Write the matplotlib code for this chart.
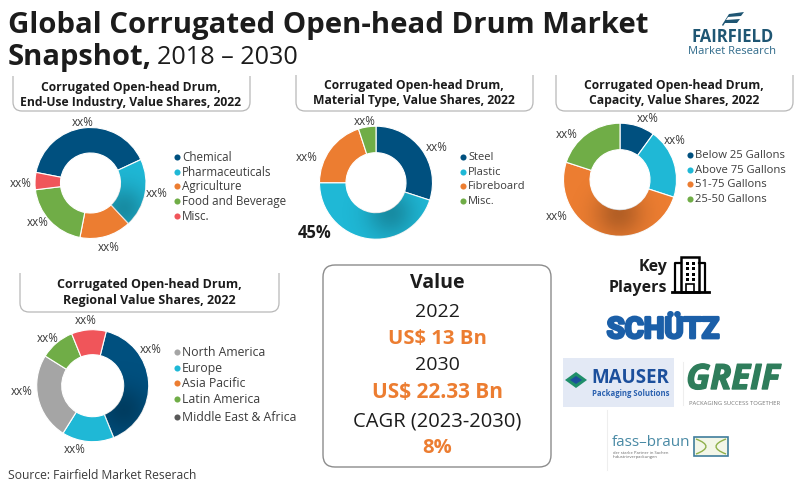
import numpy as np
import matplotlib
matplotlib.use("Agg")
import matplotlib.pyplot as plt
import matplotlib.patheffects as pe
from matplotlib.patches import FancyBboxPatch, PathPatch, Rectangle, Polygon
from matplotlib.path import Path

plt.rcParams["font.family"] = ["Open Sans", "DejaVu Sans"]

W, H = 800, 486

NAVY = "#00507f"
TEAL = "#1fb8d6"
ORANGE = "#ec7d31"
GREEN = "#70ad47"
RED = "#f0555a"
GREY = "#a5a5a5"
DARK = "#595959"
TEXT = "#3c3c3c"

# ==========================================
# Data
# ==========================================

industry_labels = ["Chemical", "Pharmaceuticals", "Agriculture", "Food and Beverage", "Misc."]
industry_values = [40, 20, 15, 20, 5]
industry_colors = [NAVY, TEAL, ORANGE, GREEN, RED]

material_labels = ["Steel", "Plastic", "Fibreboard", "Misc."]
material_values = [30, 45, 20, 5]
material_colors = [NAVY, TEAL, ORANGE, GREEN]

capacity_labels = ["Below 25 Gallons", "Above 75 Gallons", "51-75 Gallons", "25-50 Gallons"]
capacity_values = [10, 20, 50, 20]
capacity_colors = [NAVY, TEAL, ORANGE, GREEN]

region_labels = ["North America", "Europe", "Asia Pacific", "Latin America", "Middle East & Africa"]
region_legend_colors = [GREY, TEAL, ORANGE, GREEN, DARK]
region_values = [40, 15, 25, 10, 10]
region_colors = [NAVY, TEAL, GREY, GREEN, RED]

value_lines = ["Value", "2022", "US$ 13 Bn", "2030", "US$ 22.33 Bn", "CAGR (2023-2030)", "8%"]

fig = plt.figure(figsize=(W / 100, H / 100), dpi=100)
ax = fig.add_axes([0, 0, 1, 1])
ax.set_xlim(0, W)
ax.set_ylim(H, 0)
ax.axis("off")


def donut(cx, cy, r, hole, values, colors, start, shade_slice, shade_xy):
    a = fig.add_axes([(cx - r) / W, 1 - (cy + r) / H, 2 * r / W, 2 * r / H])
    wedges, _ = a.pie(values, colors=colors, startangle=start, counterclock=False, radius=1,
                      wedgeprops=dict(width=1 - hole / r, edgecolor="white", linewidth=0.8))
    # soft shadow under the hole, as on the big slice of each donut
    g = np.linspace(-1, 1, 200)
    xg, yg = np.meshgrid(g, g)
    rgba = np.zeros((200, 200, 4))
    rgba[..., 3] = 0.24 * np.exp(-((xg - shade_xy[0]) ** 2 + (yg - shade_xy[1]) ** 2) / (2 * 0.3 ** 2))
    im = a.imshow(rgba, extent=[-1, 1, -1, 1], origin="lower", zorder=3)
    im.set_clip_path(wedges[shade_slice])
    a.set_xlim(-1, 1)
    a.set_ylim(-1, 1)
    a.axis("off")


def legend(x, ys, labels, colors, size):
    for y, lab, c in zip(ys, labels, colors):
        ax.plot([x], [y], "o", ms=4.4, color=c, mec="none")
        ax.text(x + 5, y, lab, fontsize=size, color=TEXT, va="center", ha="left")


def xx(points):
    for x, y in points:
        ax.text(x, y, "xx%", fontsize=8.4, color=TEXT, ha="center", va="center")


def header(x0, x1, top, bottom, lines, cx, y1, y2, size):
    rad = 9
    verts = [(x0, top), (x0, bottom - rad), (x0, bottom), (x0 + rad, bottom),
             (x1 - rad, bottom), (x1, bottom), (x1, bottom - rad), (x1, top)]
    codes = [Path.MOVETO, Path.LINETO, Path.CURVE3, Path.CURVE3,
             Path.LINETO, Path.CURVE3, Path.CURVE3, Path.LINETO]
    ax.add_patch(PathPatch(Path(verts, codes), fc="none", ec="#b8b8b8", lw=0.9))
    ax.text(cx, y1, lines[0], fontsize=size, fontweight="bold", color="#1c1c1c", ha="center", va="center")
    ax.text(cx, y2, lines[1], fontsize=size, fontweight="bold", color="#1c1c1c", ha="center", va="center")


# ==========================================
# Title and logo
# ==========================================

ax.text(8, 26, "Global Corrugated Open-head Drum Market", fontsize=21.2, fontweight="bold",
        color="#1c1c1c", va="center")
ax.text(8, 58, "Snapshot,", fontsize=21, fontweight="bold", color="#1c1c1c", va="center")
ax.text(157, 58, "2018 – 2030", fontsize=18.2, color="#1c1c1c", va="center")

ax.add_patch(Polygon([(729, 14), (744, 12), (741, 16), (728, 17), (726, 20), (740, 19), (737, 23),
                      (725, 23), (723, 26), (722, 25)], fc="#1f5673", ec="none"))
ax.text(732.5, 37, "FAIRFIELD", fontsize=12, fontweight="bold", color="#1f5673", ha="center", va="center")
ax.text(732.5, 51, "Market Research", fontsize=8, color="#2f6a8a", ha="center", va="center")

# ==========================================
# Donuts
# ==========================================

header(13, 250, 76, 111, ["Corrugated Open-head Drum,", "End-Use Industry, Value Shares, 2022"], 131, 87, 102, 8.75)
donut(90.5, 183, 55.5, 30, industry_values, industry_colors, 169, 1, (0.6, -0.48))
legend(177, [157, 172, 186, 201, 216], industry_labels, industry_colors, 8.35)
xx([(83, 122), (157, 193), (109, 247), (38, 222), (21, 183)])

header(296, 533, 75, 111, ["Corrugated Open-head Drum,", "Material Type, Value Shares, 2022"], 414, 86, 100, 8.75)
donut(376, 182.7, 56.5, 30, material_values, material_colors, 90, 1, (0.25, -0.54))
legend(463, [157, 172, 186, 201], material_labels, material_colors, 8.0)
xx([(437, 147), (307, 157), (365, 121)])
ax.text(315, 233, "45%", fontsize=12, fontweight="bold", color="#1c1c1c", ha="center", va="center")

header(556, 793, 75, 111, ["Corrugated Open-head Drum,", "Capacity, Value Shares, 2022"], 674, 86, 100, 8.75)
donut(620, 179.7, 56.5, 30, capacity_values, capacity_colors, 90, 2, (-0.03, -0.6))
legend(690, [155, 170, 184, 199], capacity_labels, capacity_colors, 8.1)
xx([(648, 118), (675, 140), (557, 216), (567, 134)])

header(20, 279, 273, 312, ["Corrugated Open-head Drum,", "Regional Value Shares, 2022"], 149, 284, 300, 9.0)
donut(92.7, 385.7, 56, 31, region_values, region_colors, 76, 0, (0.55, -0.43))
legend(177, [352, 368, 383, 399, 417], region_labels, region_legend_colors, 8.8)
xx([(151, 349), (75, 449), (22, 391), (48, 338), (86, 320)])

ax.text(8, 475, "Source: Fairfield Market Reserach", fontsize=8.7, color=TEXT, va="center")

# ==========================================
# Value box
# ==========================================

ax.add_patch(FancyBboxPatch((323 + 12, 265 + 12), 228 - 24, 202 - 24,
                            boxstyle="round,pad=12,rounding_size=12", fc="white", ec="#8c8c8c", lw=1))

value_ys = [283, 312, 339, 365, 392, 421, 448]
value_sizes = [14, 14, 14.6, 14, 15, 14.5, 14.5]
for line, y, s in zip(value_lines, value_ys, value_sizes):
    orange = line.startswith("US$") or line == "8%"
    bold = orange or line == "Value"
    ax.text(437, y, line, fontsize=s, ha="center", va="center",
            color=ORANGE if orange else "#1c1c1c", fontweight="bold" if bold else "normal")

# ==========================================
# Key players
# ==========================================

ax.text(667, 267, "Key", fontsize=11.5, fontweight="bold", color="#1c1c1c", ha="right", va="center")
ax.text(667, 288, "Players", fontsize=11.5, fontweight="bold", color="#1c1c1c", ha="right", va="center")

# building icon
ax.plot([672, 709], [292, 292], color="black", lw=2)
ax.add_patch(Rectangle((681, 257), 18, 35, fc="white", ec="black", lw=1.8))
ax.plot([675, 675, 681], [292, 263, 263], color="black", lw=1.6)
ax.plot([699, 705, 705], [263, 263, 292], color="black", lw=1.6)
for i in range(4):
    for j in range(2):
        ax.add_patch(Rectangle((685.5 + j * 6, 261.5 + i * 5.5), 3, 3, fc="black", ec="none"))
ax.add_patch(Rectangle((686, 284), 8, 8, fc="white", ec="black", lw=1.2))

ax.text(663, 330, "SCHÜTZ", fontsize=21, fontweight="bold", family="Roboto", color="#1b5fa8",
        ha="center", va="center",
        path_effects=[pe.withStroke(linewidth=2, foreground="#1b5fa8")])

ax.add_patch(Rectangle((563, 358), 111, 49, fc="#e3e9f5", ec="none"))
ax.add_patch(Polygon([(565, 380), (576, 372), (587, 380), (576, 388)], fc="#1f8f6a", ec="none"))
ax.add_patch(Polygon([(570, 380), (576, 376), (582, 380), (576, 384)], fc="#1c4f9c", ec="none"))
ax.text(591, 377.5, "MAUSER", fontsize=13.5, fontweight="bold", color="#1c4f9c", ha="left", va="center")
ax.text(592, 393, "Packaging Solutions", fontsize=5.6, fontweight="bold", color="#2c62b0", ha="left", va="center")

ax.text(733, 380, "GREIF", fontsize=25, fontweight="bold", style="italic", color="#2f7d5b", ha="center",
        va="center", path_effects=[pe.withStroke(linewidth=1, foreground="#2f7d5b")])
ax.text(735, 403, "PACKAGING SUCCESS TOGETHER", fontsize=4.2, color="#777777", ha="center", va="center")

ax.plot([607, 607], [410, 470], color="#eeeeee", lw=0.8)
ax.plot([683, 683], [362, 405], color="#eeeeee", lw=0.8)

ax.text(651.5, 442, "fass–braun", fontsize=11, color="#4a8aa5", ha="center", va="center")
ax.text(613, 455, "der starke Partner in Sachen\nIndustrieverpackungen", fontsize=3, color="#666666",
        ha="left", va="center", linespacing=1)
ax.add_patch(Rectangle((694, 437), 34, 19, fc="#f3f6e8", ec="#3f7d9c", lw=1.2))
ax.add_patch(PathPatch(Path([(696, 439), (716, 446.5), (696, 454)], [Path.MOVETO, Path.CURVE3, Path.CURVE3]),
                       fc="none", ec="#8fb04a", lw=1))
ax.add_patch(PathPatch(Path([(726, 439), (706, 446.5), (726, 454)], [Path.MOVETO, Path.CURVE3, Path.CURVE3]),
                       fc="none", ec="#8fb04a", lw=1))

fig.savefig("out.png", dpi=100)
